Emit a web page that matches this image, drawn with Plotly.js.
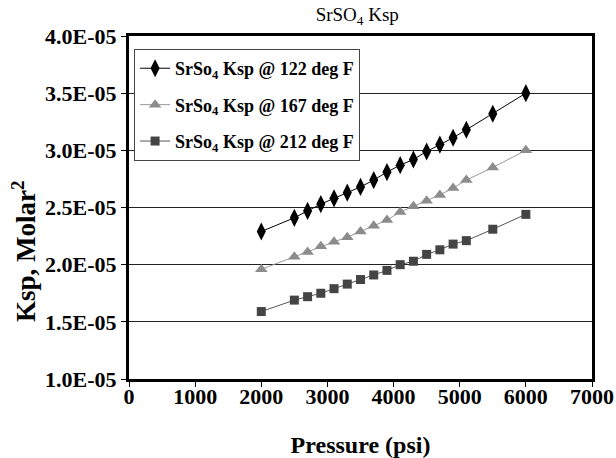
<!DOCTYPE html>
<html>
<head>
<meta charset="utf-8">
<script src="https://cdn.plot.ly/plotly-3.0.1.min.js"></script>
<style>html,body{margin:0;padding:0;background:#fff;}#chart{width:616px;height:458px;}</style>
</head>
<body>
<div id="chart"></div>
<script>
var pressure = [2000, 2500, 2700, 2900, 3100, 3300, 3500, 3700, 3900, 4100, 4300, 4500, 4700, 4900, 5100, 5500, 6000];
var ksp122 = [2.29e-5, 2.41e-5, 2.47e-5, 2.53e-5, 2.58e-5, 2.63e-5, 2.68e-5, 2.74e-5, 2.81e-5, 2.87e-5, 2.92e-5, 2.99e-5, 3.05e-5, 3.11e-5, 3.18e-5, 3.32e-5, 3.50e-5];
var ksp167 = [1.96e-5, 2.07e-5, 2.11e-5, 2.16e-5, 2.20e-5, 2.24e-5, 2.29e-5, 2.34e-5, 2.39e-5, 2.46e-5, 2.51e-5, 2.56e-5, 2.61e-5, 2.67e-5, 2.74e-5, 2.85e-5, 3.00e-5];
var ksp212 = [1.59e-5, 1.69e-5, 1.72e-5, 1.75e-5, 1.79e-5, 1.83e-5, 1.87e-5, 1.91e-5, 1.95e-5, 2.00e-5, 2.03e-5, 2.09e-5, 2.13e-5, 2.18e-5, 2.21e-5, 2.31e-5, 2.44e-5];
var seriesNames = ["SrSo<sub>4</sub> Ksp @ 122 deg F", "SrSo<sub>4</sub> Ksp @ 167 deg F", "SrSo<sub>4</sub> Ksp @ 212 deg F"];
var yTickVals = [1.0e-5, 1.5e-5, 2.0e-5, 2.5e-5, 3.0e-5, 3.5e-5, 4.0e-5];
var yTickText = ["1.0E-05", "1.5E-05", "2.0E-05", "2.5E-05", "3.0E-05", "3.5E-05", "4.0E-05"];
var xTickVals = [0, 1000, 2000, 3000, 4000, 5000, 6000, 7000];
var xTickText = ["0", "1000", "2000", "3000", "4000", "5000", "6000", "7000"];

var serif = "Liberation Serif";
var traces = [
  {x: pressure, y: ksp122, name: seriesNames[0], mode: "lines+markers", legendgroup: "a",
   line: {color: "#000000", width: 1}, marker: {symbol: "diamond-tall", size: 13, color: "#000000"}},
  {x: pressure, y: ksp167, name: seriesNames[1], mode: "lines+markers", legendgroup: "b",
   line: {color: "#999999", width: 1}, marker: {symbol: "triangle-up", size: 11, color: "#8c8c8c"}},
  {x: pressure, y: ksp212, name: seriesNames[2], mode: "lines+markers", legendgroup: "c",
   line: {color: "#555555", width: 1}, marker: {symbol: "square", size: 9, color: "#444444"}}
];
var layout = {
  width: 616, height: 458,
  margin: {l: 129, r: 24, t: 36, b: 79},
  paper_bgcolor: "#ffffff", plot_bgcolor: "#ffffff",
  showlegend: true,
  title: {text: "SrSO<sub>4</sub> Ksp", font: {family: serif, size: 19, color: "#000"}, x: 0.58, xanchor: "center", y: 0.968, yanchor: "middle"},
  xaxis: {
    range: [0, 7000], tickvals: xTickVals, ticktext: xTickText, showgrid: false, zeroline: false,
    showline: true, linecolor: "#000", linewidth: 3, mirror: true,
    ticks: "outside", ticklen: 5, tickcolor: "#000", tickwidth: 1, ticklabelstandoff: -9,
    tickfont: {family: serif, size: 22, weight: "bold", color: "#000"},
    title: {text: "Pressure (psi)", font: {family: serif, size: 24, weight: "bold", color: "#000"}, standoff: 28}
  },
  yaxis: {
    range: [1.0e-5, 4.0e-5], tickvals: yTickVals, ticktext: yTickText,
    showgrid: true, gridcolor: "#222", gridwidth: 1, zeroline: false,
    showline: true, linecolor: "#000", linewidth: 3, mirror: true,
    ticks: "outside", ticklen: 5, tickcolor: "#000", tickwidth: 1,
    tickfont: {family: serif, size: 22, weight: "bold", color: "#000"}
  },
  annotations: [{
    text: "Ksp, Molar<sup>2</sup>", textangle: -90, showarrow: false,
    xref: "paper", yref: "paper", x: -0.2268, y: 0.373, xanchor: "center", yanchor: "middle",
    font: {family: serif, size: 27, weight: "bold", color: "#000"}
  }],
  legend: {
    x: 0.011, y: 0.962, xanchor: "left", yanchor: "top",
    bgcolor: "#ffffff", bordercolor: "#444", borderwidth: 1,
    font: {family: serif, size: 18, weight: "bold", color: "#000"},
    tracegroupgap: 10, traceorder: "grouped", itemwidth: 30
  }
};
Plotly.newPlot("chart", traces, layout, {displayModeBar: false});
</script>
</body>
</html>
